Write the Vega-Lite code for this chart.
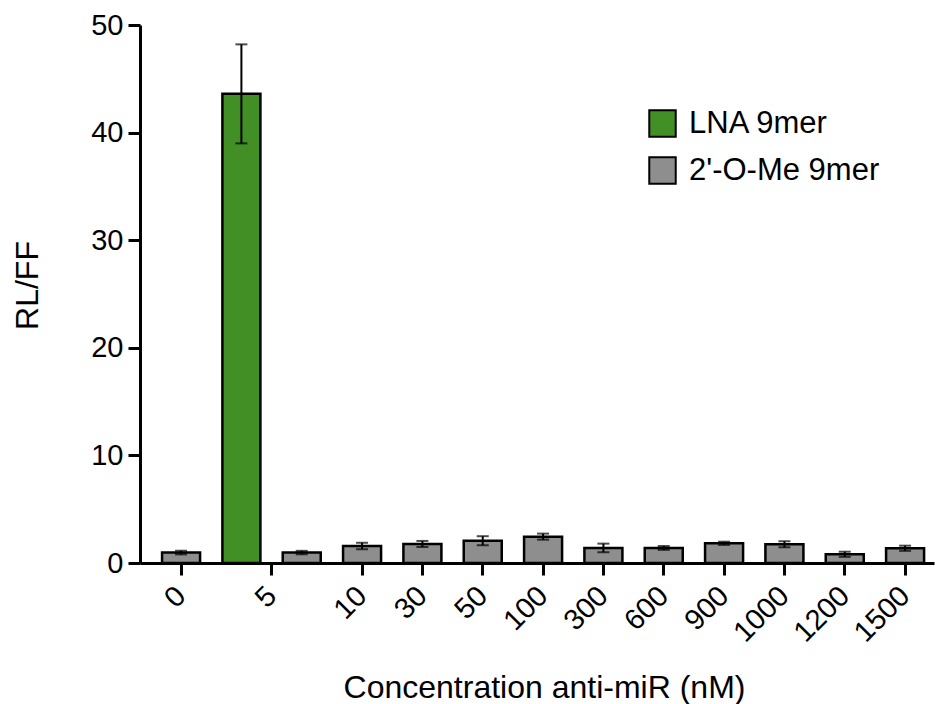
{
  "$schema": "https://vega.github.io/schema/vega-lite/v6.json",
  "width": 794,
  "height": 538,
  "autosize": "none",
  "padding": {"left": 140, "top": 25, "right": 1, "bottom": 141},
  "background": "white",
  "data": {
    "values": [
      {"bar": "0", "series": "2'-O-Me 9mer", "mean": 0.97, "sd": 0.17},
      {"bar": "5|LNA", "series": "LNA 9mer", "mean": 43.6, "sd": 4.6},
      {"bar": "5|OMe", "series": "2'-O-Me 9mer", "mean": 0.97, "sd": 0.16},
      {"bar": "10", "series": "2'-O-Me 9mer", "mean": 1.58, "sd": 0.3},
      {"bar": "30", "series": "2'-O-Me 9mer", "mean": 1.77, "sd": 0.28},
      {"bar": "50", "series": "2'-O-Me 9mer", "mean": 2.07, "sd": 0.42},
      {"bar": "100", "series": "2'-O-Me 9mer", "mean": 2.45, "sd": 0.28},
      {"bar": "300", "series": "2'-O-Me 9mer", "mean": 1.4, "sd": 0.4},
      {"bar": "600", "series": "2'-O-Me 9mer", "mean": 1.4, "sd": 0.18},
      {"bar": "900", "series": "2'-O-Me 9mer", "mean": 1.83, "sd": 0.15},
      {"bar": "1000", "series": "2'-O-Me 9mer", "mean": 1.74, "sd": 0.28},
      {"bar": "1200", "series": "2'-O-Me 9mer", "mean": 0.81, "sd": 0.24},
      {"bar": "1500", "series": "2'-O-Me 9mer", "mean": 1.37, "sd": 0.24}
    ]
  },
  "config": {
    "view": {"stroke": null},
    "font": "Liberation Sans",
    "axis": {
      "domainColor": "black",
      "domainWidth": 3,
      "tickColor": "black",
      "tickWidth": 3,
      "tickSize": 12,
      "labelColor": "black",
      "labelFont": "Liberation Sans",
      "labelFontSize": 29,
      "titleColor": "black",
      "titleFont": "Liberation Sans",
      "titleFontSize": 32,
      "titleFontWeight": "normal",
      "grid": false
    },
    "legend": {
      "labelFont": "Liberation Sans",
      "labelFontSize": 31,
      "labelColor": "black",
      "labelLimit": 0
    }
  },
  "resolve": {"scale": {"x": "independent"}, "axis": {"x": "independent"}},
  "layer": [
    {
      "encoding": {
        "x": {
          "field": "bar",
          "type": "nominal",
          "sort": null,
          "scale": {
            "domain": ["0", "5|LNA", "5|OMe", "10", "30", "50", "100", "300", "600", "900", "1000", "1200", "1500"],
            "paddingInner": 0.37,
            "paddingOuter": 0.265,
            "align": 0.69
          },
          "axis": {
            "orient": "bottom",
            "title": "Concentration anti-miR (nM)",
            "labelAngle": -45,
            "labelAlign": "right",
            "labelBaseline": "middle",
            "labelPadding": 16,
            "labelExpr": "(datum.value == '5|LNA' || datum.value == '5|OMe') ? '' : datum.value",
            "tickOpacity": {"condition": {"test": "datum.value == '5|LNA' || datum.value == '5|OMe'", "value": 0}, "value": 1},
            "titleX": 404,
            "titleY": 134,
            "titleBaseline": "alphabetic"
          }
        }
      },
      "layer": [
        {
          "mark": {"type": "bar", "stroke": "black", "strokeWidth": 2.5, "opacity": 1},
          "encoding": {
            "y": {
              "field": "mean",
              "type": "quantitative",
              "title": "RL/FF",
              "scale": {"domain": [0, 50], "nice": false},
              "axis": {
                "title": "RL/FF",
                "values": [0, 10, 20, 30, 40, 50],
                "labelPadding": 5,
                "titleX": -103,
                "titleY": 260,
                "titleAngle": -90,
                "titleBaseline": "alphabetic",
                "titleAlign": "center"
              }
            },
            "color": {
              "field": "series",
              "type": "nominal",
              "scale": {"domain": ["LNA 9mer", "2'-O-Me 9mer"], "range": ["#418f25", "#8e8e8e"]},
              "legend": {
                "title": null,
                "orient": "none",
                "legendX": 507,
                "legendY": 83,
                "symbolType": "square",
                "symbolSize": 700,
                "symbolStrokeColor": "black",
                "symbolStrokeWidth": 2,
                "symbolOpacity": 1,
                "labelOffset": 11,
                "rowPadding": 12
              }
            }
          }
        },
        {
          "mark": {"type": "errorbar", "color": "black", "thickness": 2, "ticks": {"size": 12, "thickness": 2, "color": "black"}},
          "encoding": {
            "y": {"field": "mean", "type": "quantitative", "title": "RL/FF"},
            "yError": {"field": "sd"}
          }
        }
      ]
    },
    {
      "transform": [{"filter": "datum.bar == '5|LNA'"}],
      "mark": {"type": "point", "opacity": 0},
      "encoding": {
        "x": {
          "field": "bar",
          "type": "nominal",
          "scale": {
            "type": "band",
            "domain": ["0", "5|LNA", "5|OMe", "10", "30", "50", "100", "300", "600", "900", "1000", "1200", "1500"],
            "paddingInner": 0.37,
            "paddingOuter": 0.265,
            "align": 0.69
          },
          "axis": {
            "orient": "bottom",
            "title": null,
            "domain": false,
            "values": ["5|LNA"],
            "tickOffset": 30,
            "labelAngle": -45,
            "labelAlign": "right",
            "labelBaseline": "middle",
            "labelPadding": 16,
            "labelExpr": "'5'"
          }
        }
      }
    }
  ]
}
